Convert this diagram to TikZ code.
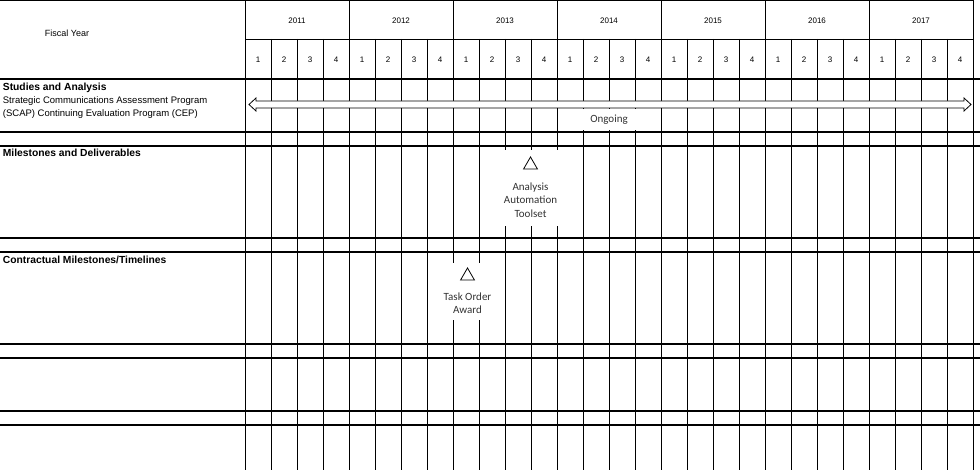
\documentclass[tikz,border=0pt]{standalone}
\usepackage{fontspec}
\setmainfont{Liberation Sans}
\newfontfamily\carlito{Carlito}
\usetikzlibrary{positioning, shapes.geometric}
\tikzset{
	every node/.style={
		font=\fontsize{8}{9}\selectfont,
		inner sep=0pt
	},
	grid line/.style={line width=0.8pt},
	band line/.style={line width=2pt},
	heading/.style={
		anchor=base west,
		font=\bfseries\fontsize{10.3}{12}\selectfont
	},
	program/.style={
		anchor=base west,
		font=\fontsize{9.5}{12}\selectfont
	},
	cover/.style={
		shape=rectangle,
		fill=white
	},
	milestone/.style={
		regular polygon,
		regular polygon sides=3,
		minimum size=16pt,
		draw,
		line width=0.8pt,
		fill=white
	},
	note/.style={
		align=center,
		text=black!80,
		font=\carlito\fontsize{11}{13.5}\selectfont
	},
}

\begin{document}
\begin{tikzpicture}[x=1pt,y=-1pt]
		
		\useasboundingbox (0,0) rectangle (980,470);
		
		% grid
		\draw[grid line] (0,0.5) -- (973,0.5);
		\draw[grid line] (245,39) -- (973,39);
		\foreach \k in {0,...,7}
			\draw[grid line] ({245+104*\k},0) -- ({245+104*\k},470);
		\foreach \k in {0,...,6}
			\foreach \q in {1,2,3}
				\draw[grid line] ({245+104*\k+26*\q},39) -- ({245+104*\k+26*\q},470);
		\foreach \y in {79,132,146,238,252,344,358,411,425}
			\draw[band line] (0,\y) -- (980,\y);
		
		% header
		\node[font=\fontsize{9}{10}\selectfont] (fy) at (67,33) {Fiscal Year};
		\foreach \yr [count=\i from 0] in {2011,...,2017} {
			\node (y\yr) at ({297+104*\i},20.5) {\yr};
			\foreach \q in {1,2,3,4}
				\node (q\yr\q) at ({232+104*\i+26*\q},59.5) {\q};
		}
		
		% row titles
		\node[heading] (studies) at (2.7,90.4) {Studies and Analysis};
		\node[program] (prog1) at (2.7,103.4) {Strategic Communications Assessment Program};
		\node[program] (prog2) at (2.7,116.1) {(SCAP) Continuing Evaluation Program (CEP)};
		\node[heading] (deliv) at (2.7,157) {Milestones and Deliverables};
		\node[heading] (contract) at (2.7,263.7) {Contractual Milestones/Timelines};
		
		% ongoing arrow
		\draw[grid line, fill=white] (249,104.5) -- (256,98) -- (256,101) -- (964,101)
			-- (964,98) -- (971,104.5) -- (964,111) -- (964,108) -- (256,108)
			-- (256,111) -- cycle;
		\node[note, cover, minimum width=58pt, minimum height=21pt] (ongoing) at (609,120) {Ongoing};
		
		% milestones
		\node[cover, minimum width=57pt, minimum height=76pt] (box1) at (531,188) {};
		\node[milestone] (tri1) at (530.5,165) {};
		\node[note] (toolset) [below = 13pt of tri1] {Analysis\\Automation\\Toolset};
		
		\node[cover, minimum width=54pt, minimum height=57pt] (box2) at (468,291.5) {};
		\node[milestone] (tri2) at (467.5,276) {};
		\node[note] (award) [below = 12pt of tri2] {Task Order\\Award};
		
\end{tikzpicture}
\end{document}
